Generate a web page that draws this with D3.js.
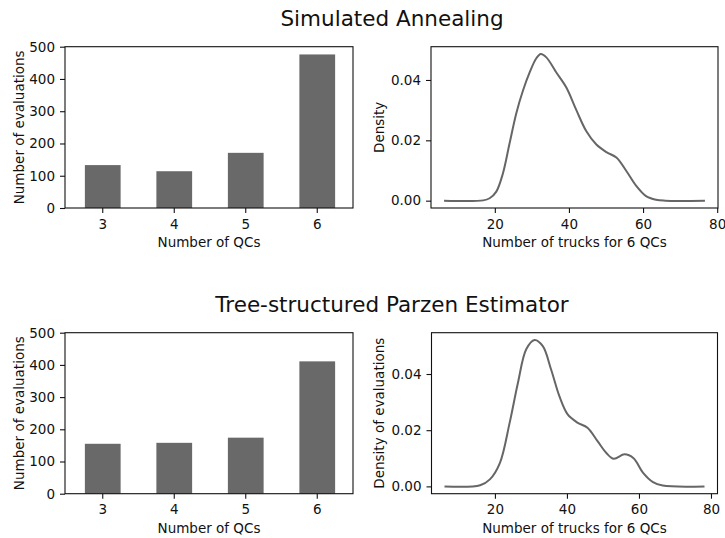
<!DOCTYPE html>
<html>
<head>
<meta charset="utf-8">
<script src="https://cdn.jsdelivr.net/npm/d3@7"></script>
<style>
  body { margin: 0; background: #fff; }
  svg text { font-family: "DejaVu Sans", sans-serif; fill: #111; }
</style>
</head>
<body>
<div id="chart"></div>
<script>
// data
var qcs = ["3", "4", "5", "6"];
var saEvaluations = [133, 114, 171, 476];
var tpeEvaluations = [155, 158, 174, 411];

var saTrucks = [6.3, 16.9, 18.6, 20.4, 22.2, 24.0, 25.8, 27.6, 29.4, 31.2, 32.4, 33.9, 36.6, 39.3, 42.0, 44.7, 47.4, 50.1, 52.8, 55.4, 58.1, 60.8, 63.5, 66.0, 76.7];
var saDensity = [0, 0.0001, 0.0008, 0.003, 0.0091, 0.0191, 0.0290, 0.0365, 0.0425, 0.0472, 0.0486, 0.0475, 0.0425, 0.0375, 0.0300, 0.0230, 0.0186, 0.0161, 0.0143, 0.0100, 0.0050, 0.0015, 0.0003, 0, 0];

var tpeTrucks = [6.0, 15.9, 18.6, 21.4, 24.1, 26.4, 28.7, 31.0, 33.3, 35.6, 37.9, 40.2, 42.9, 45.7, 48.5, 51.0, 53.0, 56.0, 58.5, 61.1, 63.9, 66.6, 78.2];
var tpeDensity = [0, 0.0004, 0.0025, 0.0084, 0.0227, 0.0369, 0.0488, 0.0521, 0.0499, 0.0416, 0.0321, 0.0256, 0.0227, 0.0209, 0.0161, 0.0118, 0.0098, 0.0114, 0.0100, 0.0049, 0.0015, 0.0003, 0];

var barTicks = [0, 100, 200, 300, 400, 500];
var kdeXTicks = [20, 40, 60, 80];
var kdeYTicks = [0, 0.02, 0.04];

var width = 725,
    height = 538;

var svg = d3.select("#chart")
  .append("svg")
    .attr("width", width)
    .attr("height", height);

var fontSize = 13.5;

function frame(g, x0, x1, y0, y1) {
  g.append("rect")
    .attr("x", x0).attr("y", y0)
    .attr("width", x1 - x0).attr("height", y1 - y0)
    .style("fill", "none")
    .style("stroke", "#111")
    .style("stroke-width", 1.1);
}

function styleAxis(g) {
  g.select(".domain").remove();
  g.selectAll(".tick line").style("stroke", "#111").style("stroke-width", 1.1);
  g.selectAll(".tick text")
    .style("font-size", fontSize + "px")
    .style("font-family", "DejaVu Sans, sans-serif")
    .style("fill", "#111");
}

// bar panel
function drawBars(values, box, xLabel, yLabel, yLabelX) {
  var g = svg.append("g");

  var x = d3.scaleBand()
    .domain(qcs)
    .range([box.x0 + 2, box.x1])
    .paddingInner(0.5)
    .paddingOuter(0.25);

  var y = d3.scaleLinear()
    .domain([0, 500])
    .range([box.y1, box.y0]);

  g.selectAll(".bar")
    .data(values)
    .enter()
    .append("rect")
    .attr("class", "bar")
    .attr("x", function(d, i) { return x(qcs[i]); })
    .attr("width", x.bandwidth())
    .attr("y", function(d) { return y(d); })
    .attr("height", function(d) { return y(0) - y(d); })
    .style("fill", "#696969");

  g.append("g")
    .attr("transform", "translate(0," + box.y1 + ")")
    .call(d3.axisBottom(x).tickSize(5).tickSizeOuter(0).tickPadding(6))
    .call(styleAxis);

  g.append("g")
    .attr("transform", "translate(" + box.x0 + ",0)")
    .call(d3.axisLeft(y).tickValues(barTicks).tickSize(5).tickPadding(5))
    .call(styleAxis);

  frame(g, box.x0, box.x1, box.y0, box.y1);

  g.append("text")
    .attr("x", (box.x0 + box.x1) / 2)
    .attr("y", box.y1 + 38.8)
    .attr("text-anchor", "middle")
    .style("font-size", fontSize + "px")
    .text(xLabel);

  g.append("text")
    .attr("transform", "translate(" + yLabelX + "," + (box.y0 + box.y1) / 2 + ") rotate(-90)")
    .attr("text-anchor", "middle")
    .style("font-size", fontSize + "px")
    .text(yLabel);
}

// density panel
function drawKde(xs, ys, box, xLabel, yLabel, yLabelX) {
  var g = svg.append("g");

  var xMin = d3.min(xs), xMax = d3.max(xs), xr = xMax - xMin;
  var yMin = d3.min(ys), yMax = d3.max(ys), yr = yMax - yMin;

  var x = d3.scaleLinear()
    .domain([xMin - 0.05 * xr, xMax + 0.05 * xr])
    .range([box.x0, box.x1]);

  var y = d3.scaleLinear()
    .domain([yMin - 0.05 * yr, yMax + 0.05 * yr])
    .range([box.y1, box.y0]);

  var line = d3.line()
    .x(function(d, i) { return x(xs[i]); })
    .y(function(d) { return y(d); })
    .curve(d3.curveCatmullRom.alpha(0.5));

  g.append("path")
    .datum(ys)
    .attr("d", line)
    .style("fill", "none")
    .style("stroke", "#666")
    .style("stroke-width", 2);

  g.append("g")
    .attr("transform", "translate(0," + box.y1 + ")")
    .call(d3.axisBottom(x).tickValues(kdeXTicks).tickSize(5).tickPadding(6))
    .call(styleAxis);

  g.append("g")
    .attr("transform", "translate(" + box.x0 + ",0)")
    .call(d3.axisLeft(y).tickValues(kdeYTicks).tickFormat(d3.format(".2f")).tickSize(5).tickPadding(5))
    .call(styleAxis);

  frame(g, box.x0, box.x1, box.y0, box.y1);

  g.append("text")
    .attr("x", (box.x0 + box.x1) / 2)
    .attr("y", box.y1 + 38.8)
    .attr("text-anchor", "middle")
    .style("font-size", fontSize + "px")
    .text(xLabel);

  g.append("text")
    .attr("transform", "translate(" + yLabelX + "," + (box.y0 + box.y1) / 2 + ") rotate(-90)")
    .attr("text-anchor", "middle")
    .style("font-size", fontSize + "px")
    .text(yLabel);
}

//titles
svg.append("text")
  .attr("x", 392)
  .attr("y", 25.7)
  .attr("text-anchor", "middle")
  .style("font-size", "21.5px")
  .text("Simulated Annealing");

svg.append("text")
  .attr("x", 392)
  .attr("y", 312.4)
  .attr("text-anchor", "middle")
  .style("font-size", "21.5px")
  .text("Tree-structured Parzen Estimator");

drawBars(saEvaluations, {x0: 65, x1: 353, y0: 46.7, y1: 208},
  "Number of QCs", "Number of evaluations", 24);
drawKde(saTrucks, saDensity, {x0: 431, x1: 718, y0: 46.7, y1: 208},
  "Number of trucks for 6 QCs", "Density", 383.5);

drawBars(tpeEvaluations, {x0: 65, x1: 353, y0: 332.7, y1: 493.7},
  "Number of QCs", "Number of evaluations", 24);
drawKde(tpeTrucks, tpeDensity, {x0: 431.5, x1: 717.5, y0: 332.7, y1: 493.7},
  "Number of trucks for 6 QCs", "Density of evaluations", 383.5);
</script>
</body>
</html>
